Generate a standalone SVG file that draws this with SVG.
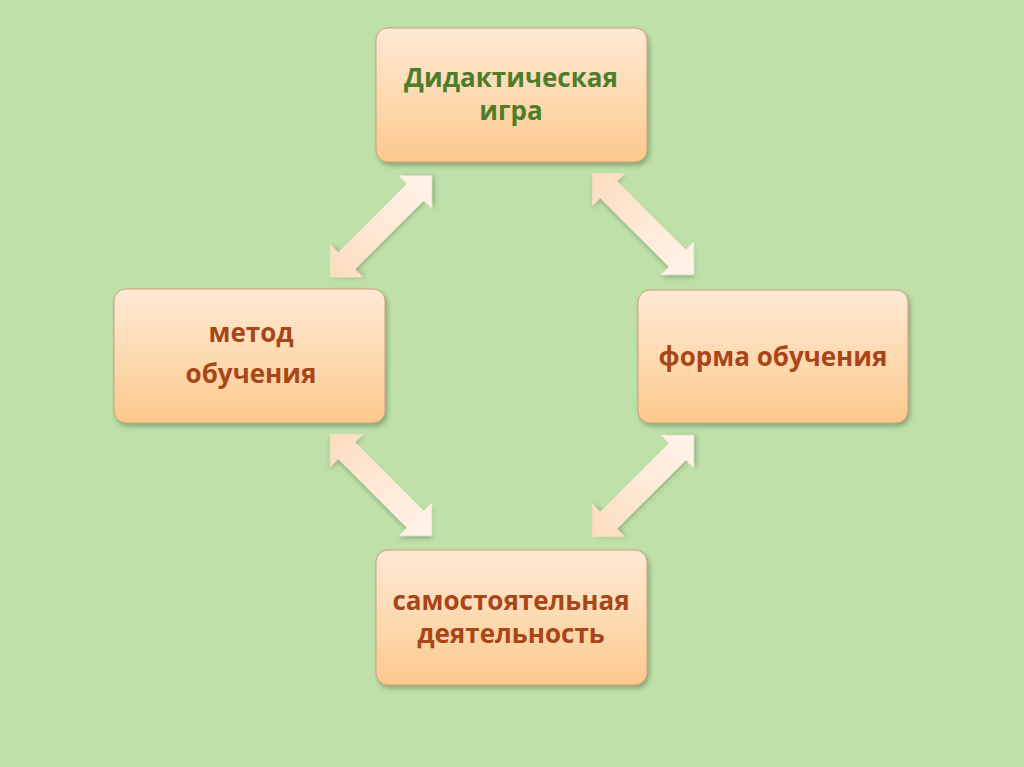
<svg xmlns="http://www.w3.org/2000/svg" width="1024" height="767" viewBox="0 0 1024 767">
<defs>
<linearGradient id="boxg" x1="0" y1="0" x2="0" y2="1">
<stop offset="0" stop-color="#fee9d4"/>
<stop offset="0.6" stop-color="#fdd7aa"/>
<stop offset="1" stop-color="#fcc88c"/>
</linearGradient>
<linearGradient id="arrg" x1="0" y1="0" x2="1" y2="0">
<stop offset="0" stop-color="#fddcbd"/>
<stop offset="0.5" stop-color="#fee9d6"/>
<stop offset="1" stop-color="#fff4ea"/>
</linearGradient>
<filter id="sh" x="-20%" y="-20%" width="140%" height="140%">
<feDropShadow dx="2" dy="3" stdDeviation="2.5" flood-color="#4a5a3a" flood-opacity="0.45"/>
</filter>
<filter id="ash" x="-20%" y="-40%" width="140%" height="180%">
<feDropShadow dx="2" dy="2" stdDeviation="2" flood-color="#5a6a4a" flood-opacity="0.4"/>
</filter>
<path id="dbl" d="M -72 0 L -48.5 -23.5 L -48.5 -12 L 48.5 -12 L 48.5 -23.5 L 72 0 L 48.5 23.5 L 48.5 12 L -48.5 12 L -48.5 23.5 Z"/>
</defs>
<style>
.box{fill:url(#boxg);stroke:#c9a27a;stroke-width:1;filter:url(#sh)}
.arr{fill:url(#arrg);filter:url(#ash)}
.t{font-family:"Open Sans","Noto Sans","Liberation Sans",sans-serif;font-weight:bold;font-size:26px;text-anchor:middle}
.g{fill:#4d7d2b}
.b{fill:#a8461a}
</style>
<rect width="1024" height="767" fill="#bfe1a9"/>
<g id="connectors">
<use href="#dbl" class="arr" transform="translate(381,226.5) rotate(-45)"/>
<use href="#dbl" class="arr" transform="translate(643,224) rotate(45)"/>
<use href="#dbl" class="arr" transform="translate(381,485) rotate(45)"/>
<use href="#dbl" class="arr" transform="translate(643,486) rotate(-45)"/>
</g>
<g id="node-game">
<rect class="box" x="376" y="28" width="271" height="134" rx="12"/>
<text class="t g" x="511" y="87">Дидактическая</text>
<text class="t g" x="511" y="120">игра</text>
</g>
<g id="node-method">
<rect class="box" x="114" y="289" width="271" height="134" rx="12"/>
<text class="t b" x="251" y="342">метод</text>
<text class="t b" x="251" y="383">обучения</text>
</g>
<g id="node-form">
<rect class="box" x="638" y="290" width="270" height="133" rx="12"/>
<text class="t b" x="773" y="366">форма обучения</text>
</g>
<g id="node-self">
<rect class="box" x="376" y="550" width="271" height="135" rx="12"/>
<text class="t b" x="511" y="610">самостоятельная</text>
<text class="t b" x="511" y="643">деятельность</text>
</g>
</svg>
